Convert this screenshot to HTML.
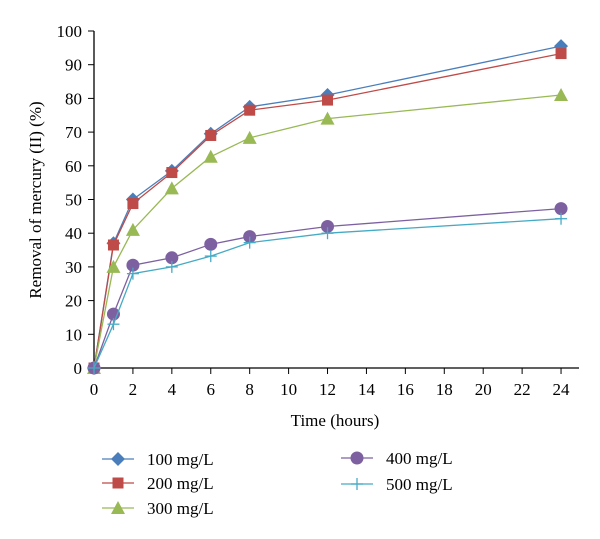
<!DOCTYPE html>
<html><head><meta charset="utf-8"><style>
html,body{margin:0;padding:0;background:#fff;}
svg{display:block;font-family:"Liberation Serif",serif;}
</style></head><body>
<svg id="chart" width="600" height="539" viewBox="0 0 600 539">
<g id="axes"></g><g id="series"></g><g id="legend"></g>
</svg>
<script>
const xValues=[0,1,2,4,6,8,12,24];
const s100=[0,37,50,58.5,69.5,77.5,81,95.5];
const s200=[0,36.5,48.8,58,69,76.5,79.5,93.3];
const s300=[0,30,41,53.3,62.7,68.3,74,81];
const s400=[0,16,30.5,32.7,36.7,39,42,47.3];
const s500=[0,13,28,30,33.2,37.2,40,44.3];
const seriesNames=["100 mg/L","200 mg/L","300 mg/L","400 mg/L","500 mg/L"];
const xTicks=[0,2,4,6,8,10,12,14,16,18,20,22,24];
const yTicks=[0,10,20,30,40,50,60,70,80,90,100];

const NS="http://www.w3.org/2000/svg";
const X=v=>94+v*19.46;
const Y=v=>368-v*3.37;
function mk(t,a,p){const e=document.createElementNS(NS,t);for(const k in a)e.setAttribute(k,a[k]);p.appendChild(e);return e;}
const axes=document.getElementById('axes');
let e=mk('line',{x1:94,y1:Y(100),x2:94,y2:368,stroke:'#000','stroke-width':1.3},axes);


e=mk('line',{x1:94,y1:368,x2:579,y2:368,stroke:'#000','stroke-width':1.3},axes);


yTicks.forEach(v=>{
 mk('line',{x1:88,y1:Y(v),x2:94,y2:Y(v),stroke:'#000'},axes);
 const t=mk('text',{x:82,y:Y(v)+6,'text-anchor':'end','font-size':17},axes);t.textContent=v;
 
 
});
xTicks.forEach(v=>{
 mk('line',{x1:X(v),y1:368,x2:X(v),y2:374,stroke:'#000'},axes);
 const t=mk('text',{x:X(v),y:395,'text-anchor':'middle','font-size':17},axes);t.textContent=v;
 
 
});
let t=mk('text',{x:335,y:426,'text-anchor':'middle','font-size':17},axes);t.textContent='Time (hours)';


t=mk('text',{x:0,y:0,'text-anchor':'middle','font-size':17,transform:'translate(41,200) rotate(-90)'},axes);t.textContent='Removal of mercury (II) (%)';



const colors=['#4a7ebb','#be4b48','#98b954','#7d60a0','#46aac5'];
const shapes=['diamond','square','triangle','circle','plus'];
function marker(g,shape,x,y,c){
 if(shape==='diamond')mk('polygon',{points:`${x},${y-7} ${x+7},${y} ${x},${y+7} ${x-7},${y}`,fill:c},g);
 else if(shape==='square')mk('rect',{x:x-5.5,y:y-5.5,width:11,height:11,fill:c},g);
 else if(shape==='triangle')mk('polygon',{points:`${x},${y-7} ${x+7},${y+6} ${x-7},${y+6}`,fill:c},g);
 else if(shape==='circle')mk('circle',{cx:x,cy:y,r:6.5,fill:c},g);
 else{mk('line',{x1:x-6,y1:y,x2:x+6,y2:y,stroke:c,'stroke-width':1.3},g);mk('line',{x1:x,y1:y-6,x2:x,y2:y+6,stroke:c,'stroke-width':1.3},g);}
}
const all=[s100,s200,s300,s400,s500];
const sg=document.getElementById('series');
all.forEach((s,i)=>{
 const g=mk('g',{},sg);
 
 
 mk('polyline',{points:s.map((v,j)=>X(xValues[j])+','+Y(v)).join(' '),fill:'none',stroke:colors[i],'stroke-width':1.3},g);
 s.forEach((v,j)=>marker(g,shapes[i],X(xValues[j]),Y(v),colors[i]));
});
const lg=document.getElementById('legend');
const pos=[[118,459],[118,483],[118,508],[357,458],[357,484]];
seriesNames.forEach((n,i)=>{
 const g=mk('g',{},lg);
 
 
 const [x,y]=pos[i];
 mk('line',{x1:x-16,y1:y,x2:x+16,y2:y,stroke:colors[i],'stroke-width':1.3},g);
 marker(g,shapes[i],x,y,colors[i]);
 const tt=mk('text',{x:x+29,y:y+6,'font-size':17},g);tt.textContent=n;
});
</script>
</body></html>
